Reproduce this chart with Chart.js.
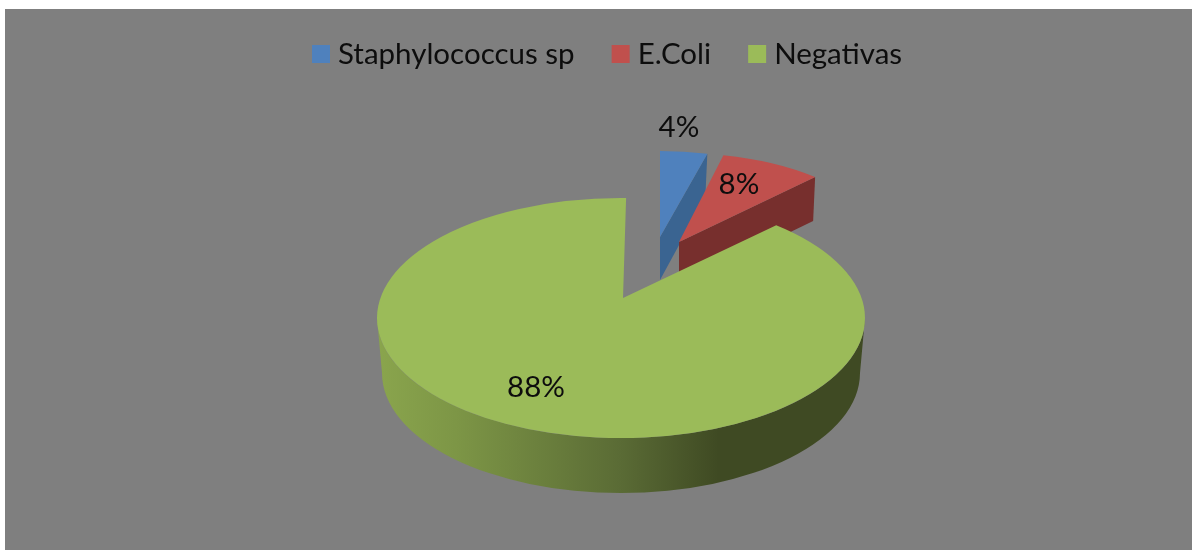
<!DOCTYPE html>
<html lang="pt-br">

<head>
    <meta charset="UTF-8">
    <title>Staphylococcus sp, E.Coli, Negativas</title>
    <script src="https://cdn.jsdelivr.net/npm/chart.js@4"></script>
    <style>
        html, body {
            margin: 0;
            background: #fff;
            overflow: hidden;
        }

        #wrap {
            position: absolute;
            left: 5px;
            top: 9px;
            width: 1187px;
            height: 541px;
            background: #7f7f7f;
        }
    </style>
</head>

<body>
    <div id="wrap"><canvas id="pieChart"></canvas></div>

    <script>
        const categories = ['Staphylococcus sp', 'E.Coli', 'Negativas'];
        const values = [4, 8, 88];
        const topColors = ['#4f81bd', '#c0504d', '#9bbb59'];
        const sideColors = ['#3a6491', '#772f2d', null];

        const FONT = 'Lato, "Open Sans", sans-serif';
        const FONT_SIZE = 29.5;
        const TEXT = '#0d0d0d';

        // centre of the big ellipse, in canvas pixels
        const centerX = 616;
        const centerY = 309;

        // how each slice sits in the fake 3D view
        const views = [
            { dx: 39, dy: -81, scaleX: 0.78, scaleY: 0.352, depth: 43, apexX: 0, apexY: 0, skewStart: 0, skewEnd: 0 },
            { dx: 58, dy: -76, scaleX: 0.815, scaleY: 0.365, depth: 44, apexX: 0, apexY: 0, skewStart: -1.5, skewEnd: 0 },
            { dx: 0, dy: 0, scaleX: 1, scaleY: 0.492, depth: 55, apexX: 2, apexY: -20, skewStart: -3.7, skewEnd: 1.2 }
        ];
        const labelOffsets = [[58, -191], [118, -134], [-85, 69]];

        // legend placement: first box, box size, box to text, text to next box
        const legendLeft = 307;
        const legendMidY = 45;
        const legendBox = 18;
        const legendTextGap = 8;
        const legendItemGap = 37;

        const pie3d = {
            id: 'pie3d',
            beforeDatasetDraw(chart, args) {
                const ctx = chart.ctx;
                const arcs = args.meta.data;
                ctx.save();
                arcs.forEach((arc, i) => {
                    const v = views[i];
                    const cx = centerX + v.dx;
                    const cy = centerY + v.dy;
                    const rx = arc.outerRadius * v.scaleX;
                    const ry = arc.outerRadius * v.scaleY;
                    const a0 = arc.startAngle + v.skewStart * Math.PI / 180;
                    const a1 = arc.endAngle + v.skewEnd * Math.PI / 180;

                    if (sideColors[i]) {
                        // flat cut face along the slice's right edge
                        const ox = cx + rx * Math.cos(a1);
                        const oy = cy + ry * Math.sin(a1);
                        ctx.fillStyle = sideColors[i];
                        ctx.beginPath();
                        ctx.moveTo(ox, oy);
                        ctx.lineTo(cx, cy);
                        ctx.lineTo(cx, cy + v.depth);
                        ctx.lineTo(ox - 2, oy + v.depth);
                        ctx.closePath();
                        ctx.fill();
                    } else {
                        // round wall of the big slice
                        const wall = ctx.createLinearGradient(cx - rx, 0, cx + rx, 0);
                        wall.addColorStop(0, '#8aa54d');
                        wall.addColorStop(0.16, '#7d9646');
                        wall.addColorStop(0.5, '#5a6b35');
                        wall.addColorStop(0.7, '#3f4a23');
                        wall.addColorStop(1, '#3f4a23');
                        ctx.fillStyle = wall;
                        ctx.beginPath();
                        ctx.ellipse(cx, cy, rx, ry, 0, 0, Math.PI);
                        ctx.ellipse(cx, cy + v.depth, rx - 5, ry, 0, Math.PI, 0, true);
                        ctx.closePath();
                        ctx.fill();
                    }

                    ctx.fillStyle = topColors[i];
                    ctx.beginPath();
                    ctx.moveTo(cx + v.apexX, cy + v.apexY);
                    ctx.ellipse(cx, cy, rx, ry, 0, a0, a1);
                    ctx.closePath();
                    ctx.fill();
                });

                const total = values.reduce((a, b) => a + b, 0);
                ctx.fillStyle = TEXT;
                ctx.font = FONT_SIZE + 'px ' + FONT;
                ctx.textAlign = 'center';
                ctx.textBaseline = 'middle';
                values.forEach((val, i) => {
                    const pct = Math.round(val / total * 100) + '%';
                    ctx.fillText(pct, centerX + labelOffsets[i][0], centerY + labelOffsets[i][1]);
                });

                // legend, the built-in one can't bring the text this close to the box
                ctx.textAlign = 'left';
                let x = legendLeft;
                categories.forEach((name, i) => {
                    ctx.fillStyle = topColors[i];
                    ctx.fillRect(x, legendMidY - legendBox / 2, legendBox, legendBox);
                    x += legendBox + legendTextGap;
                    ctx.fillStyle = TEXT;
                    ctx.fillText(name, x, legendMidY);
                    x += ctx.measureText(name).width + legendItemGap;
                });
                ctx.restore();
                return false;
            }
        };

        new Chart(document.getElementById('pieChart'), {
            type: 'pie',
            data: {
                labels: categories,
                datasets: [{
                    data: values,
                    backgroundColor: topColors,
                    borderWidth: 0,
                    radius: 244
                }]
            },
            options: {
                responsive: true,
                maintainAspectRatio: false,
                animation: false,
                plugins: {
                    legend: { display: false },
                    tooltip: { enabled: false }
                }
            },
            plugins: [pie3d]
        });
    </script>

</body>

</html>
